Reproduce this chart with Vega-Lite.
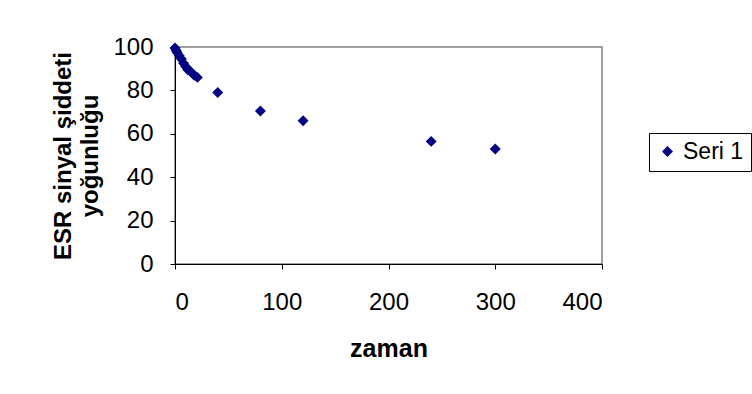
{
  "$schema": "https://vega.github.io/schema/vega-lite/v6.json",
  "width": 427,
  "height": 217,
  "autosize": {"type": "none"},
  "padding": {"left": 175, "top": 47, "right": 150, "bottom": 130},
  "background": "white",
  "config": {
    "view": {"stroke": "#808080", "strokeWidth": 1.5},
    "font": "Liberation Sans"
  },
  "data": {
    "values": [
      {"zaman": 0, "deger": 99.5, "seri": "Seri 1"},
      {"zaman": 1, "deger": 98.5, "seri": "Seri 1"},
      {"zaman": 2, "deger": 97.5, "seri": "Seri 1"},
      {"zaman": 4, "deger": 96, "seri": "Seri 1"},
      {"zaman": 6, "deger": 94.5, "seri": "Seri 1"},
      {"zaman": 8, "deger": 92.5, "seri": "Seri 1"},
      {"zaman": 10, "deger": 91, "seri": "Seri 1"},
      {"zaman": 12, "deger": 89.5, "seri": "Seri 1"},
      {"zaman": 15, "deger": 88.5, "seri": "Seri 1"},
      {"zaman": 18, "deger": 87, "seri": "Seri 1"},
      {"zaman": 21, "deger": 86, "seri": "Seri 1"},
      {"zaman": 40, "deger": 79, "seri": "Seri 1"},
      {"zaman": 80, "deger": 70.5, "seri": "Seri 1"},
      {"zaman": 120, "deger": 66, "seri": "Seri 1"},
      {"zaman": 240, "deger": 56.5, "seri": "Seri 1"},
      {"zaman": 300, "deger": 53, "seri": "Seri 1"}
    ]
  },
  "mark": {"type": "point", "shape": "diamond", "filled": true, "size": 120, "opacity": 1},
  "encoding": {
    "x": {
      "field": "zaman", "type": "quantitative",
      "scale": {"domain": [0, 400], "nice": false, "zero": true},
      "axis": {
        "values": [0, 100, 200, 300, 400],
        "grid": false, "domainColor": "black", "tickColor": "black",
        "tickSize": 5, "labelPadding": 21, "labelFontSize": 24, "labelColor": "black",
        "title": "zaman", "titleFontSize": 25, "titleFontWeight": "bold",
        "titlePadding": 22, "titleColor": "black"
      }
    },
    "y": {
      "field": "deger", "type": "quantitative",
      "scale": {"domain": [0, 100], "nice": false},
      "axis": {
        "values": [0, 20, 40, 60, 80, 100],
        "grid": false, "domainColor": "black", "tickColor": "black",
        "tickSize": 5, "labelPadding": 17, "labelFontSize": 24, "labelColor": "black",
        "title": ["ESR sinyal şiddeti", "yoğunluğu"], "titleFontSize": 24, "titleFontWeight": "bold",
        "titleLineHeight": 27, "titlePadding": 10, "titleColor": "black"
      }
    },
    "color": {
      "field": "seri", "type": "nominal",
      "scale": {"range": ["#000080"]},
      "legend": {
        "title": null, "orient": "none", "legendX": 474, "legendY": 86,
        "strokeColor": "black", "padding": 7, "fillColor": "white",
        "labelFontSize": 23, "labelColor": "black", "symbolType": "diamond", "symbolSize": 120,
        "labelOffset": 4
      }
    }
  }
}
